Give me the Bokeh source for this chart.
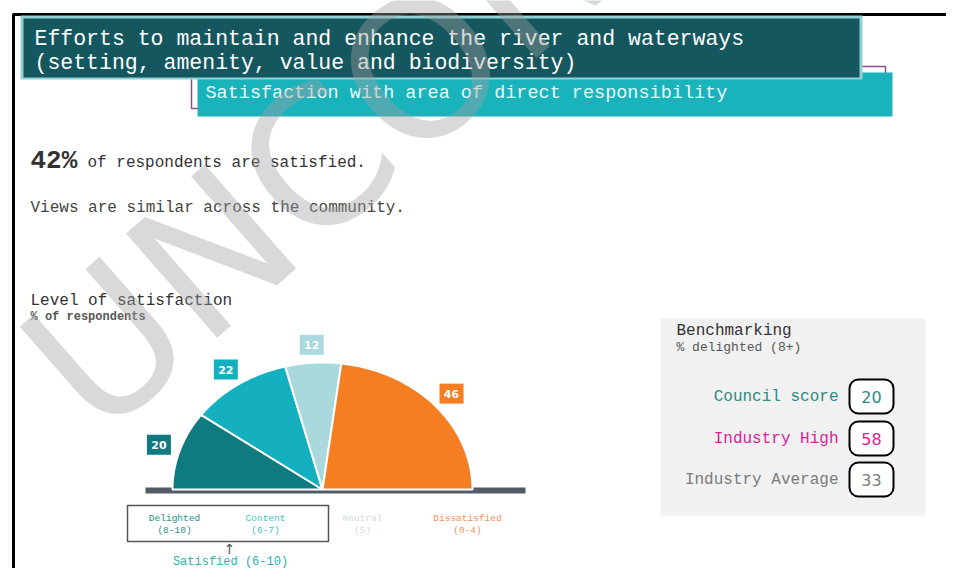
import numpy as np
from bokeh.plotting import figure
from bokeh.models import Range1d
from bokeh.core.properties import value
from bokeh.embed import file_html
from bokeh.resources import INLINE

# ---- data ----
categories = ["Delighted", "Content", "Neutral", "Dissatisfied"]
score_ranges = ["(8-10)", "(6-7)", "(5)", "(0-4)"]
shares = [20, 22, 12, 46]
slice_colors = ["#0f7a80", "#15b0c0", "#a9d9dd", "#f57d22"]
legend_colors = ["#2a8f88", "#3cc4c8", "#d6dcdc", "#f5905a"]

bench_labels = ["Council score", "Industry High", "Industry Average"]
bench_values = [20, 58, 33]
bench_colors = ["#2d8a80", "#e0209a", "#7a7a7a"]

satisfied_pct = 42
title_lines = ["Efforts to maintain and enhance the river and waterways",
               "(setting, amenity, value and biodiversity)"]
subtitle = "Satisfaction with area of direct responsibility"

FONT = value("Liberation Mono")
W, H = 946, 568


def X(px):
    return px


def Y(py):
    return H - py


p = figure(width=W, height=H, output_backend="svg", toolbar_location=None,
           x_range=Range1d(0, W), y_range=Range1d(0, H), min_border=0)
p.axis.visible = False
p.grid.visible = False
p.outline_line_color = None
p.background_fill_color = "white"

# frame
p.line([X(12), X(946)], [Y(14), Y(14)], line_color="black", line_width=3)
p.line([X(13), X(13)], [Y(14), Y(568)], line_color="black", line_width=3)

# header boxes
p.quad(left=X(191), right=X(885), top=Y(66), bottom=Y(108), fill_color=None,
       line_color="#8a4f8f", line_width=1.5)
p.quad(left=X(197), right=X(892), top=Y(72), bottom=Y(116), fill_color="#19b3bc", line_color=None)
p.quad(left=X(20), right=X(862), top=Y(15), bottom=Y(79), fill_color="#8fd3d6", line_color=None)
p.quad(left=X(23), right=X(859), top=Y(18), bottom=Y(77), fill_color="#15575f", line_color=None)
p.text(x=[X(34), X(34)], y=[Y(38), Y(62)], text=title_lines, text_font=FONT,
       text_font_size="21.5px", text_color="white", text_baseline="middle")
p.text(x=[X(205)], y=[Y(93)], text=[subtitle], text_font=FONT,
       text_font_size="18.5px", text_color="#e6fbfb", text_baseline="middle")

# headline
p.text(x=[X(30)], y=[Y(160)], text=[f"{satisfied_pct}%"], text_font=FONT,
       text_font_size="26px", text_font_style="bold", text_color="#333333", text_baseline="middle")
p.text(x=[X(87)], y=[Y(162)], text=["of respondents are satisfied."], text_font=FONT,
       text_font_size="16px", text_color="#333333", text_baseline="middle")
p.text(x=[X(30)], y=[Y(207)], text=["Views are similar across the community."], text_font=FONT,
       text_font_size="16px", text_color="#444444", text_baseline="middle")

p.text(x=[X(30)], y=[Y(300)], text=["Level of satisfaction"], text_font=FONT,
       text_font_size="16px", text_color="#333333", text_baseline="middle")
p.text(x=[X(30)], y=[Y(316)], text=["% of respondents"], text_font=FONT,
       text_font_size="12px", text_font_style="bold", text_color="#555555", text_baseline="middle")

# semi-circle (half-pie)
cx, cy = X(322), Y(489)
rx, ry = 150, 127
xs, ys, lx, ly = [], [], [], []
start = np.pi
for v in shares:
    span = np.pi * v / 100.0
    t = np.linspace(start, start - span, 60)
    xs.append(list(np.r_[cx, cx + rx * np.cos(t)]))
    ys.append(list(np.r_[cy, cy + ry * np.sin(t)]))
    mid = start - span / 2
    lx.append(cx + 172 * np.cos(mid))
    ly.append(cy + 145 * np.sin(mid))
    start -= span
p.quad(left=X(145), right=X(525), top=Y(487), bottom=Y(493), fill_color="#555b66", line_color=None)
p.patches(xs, ys, fill_color=slice_colors, line_color="white", line_width=2)

p.rect(x=lx, y=ly, width=24, height=20, width_units="screen", height_units="screen",
       fill_color=slice_colors, line_color=None)
p.text(x=lx, y=ly, text=[str(v) for v in shares], text_font=value("DejaVu Sans"),
       text_font_size="11px", text_font_style="bold", text_color="white",
       text_align="center", text_baseline="middle")

# legend under the chart
leg_x = [X(174), X(265), X(362), X(467)]
p.quad(left=X(127), right=X(328), top=Y(505), bottom=Y(541), fill_color=None,
       line_color="#555555", line_width=1.5)
p.text(x=leg_x, y=[Y(518)] * 4, text=categories, text_font=FONT, text_font_size="9.5px",
       text_color=legend_colors, text_align="center", text_baseline="middle")
p.text(x=leg_x, y=[Y(530)] * 4, text=score_ranges, text_font=FONT, text_font_size="9.5px",
       text_color=legend_colors, text_align="center", text_baseline="middle")
p.text(x=[X(229)], y=[Y(548)], text=["↑"], text_font=value("DejaVu Sans"), text_font_size="14px",
       text_color="#555555", text_align="center", text_baseline="middle")
p.text(x=[X(230)], y=[Y(561)], text=["Satisfied (6-10)"], text_font=FONT, text_font_size="12px",
       text_color="#2ab3ac", text_align="center", text_baseline="middle")

# benchmarking panel
p.quad(left=X(660), right=X(925), top=Y(318), bottom=Y(515), fill_color="#f1f1f1", line_color=None)
p.text(x=[X(676)], y=[Y(330)], text=["Benchmarking"], text_font=FONT, text_font_size="16px",
       text_color="#333333", text_baseline="middle")
p.text(x=[X(676)], y=[Y(347)], text=["% delighted (8+)"], text_font=FONT, text_font_size="13px",
       text_color="#555555", text_baseline="middle")
by = [Y(396), Y(438), Y(479)]
p.text(x=[X(838)] * 3, y=by, text=bench_labels, text_font=FONT, text_font_size="16px",
       text_color=bench_colors, text_align="right", text_baseline="middle")
p.rect(x=[X(871)] * 3, y=by, width=44, height=34, width_units="screen", height_units="screen",
       fill_color="white", line_color="black", line_width=2, border_radius=9)
p.text(x=[X(871)] * 3, y=by, text=[str(v) for v in bench_values], text_font=value("DejaVu Sans"),
       text_font_size="16px", text_color=bench_colors, text_align="center", text_baseline="middle")

# watermark
p.text(x=[X(55)], y=[Y(392)], text=["UNCONTROLLED"], text_font=value("DejaVu Sans"),
       text_font_size="190px", text_color="#a0a0a0", text_alpha=0.4,
       angle=0.72, text_baseline="alphabetic")

open("out.html", "w").write(file_html(p, INLINE))
